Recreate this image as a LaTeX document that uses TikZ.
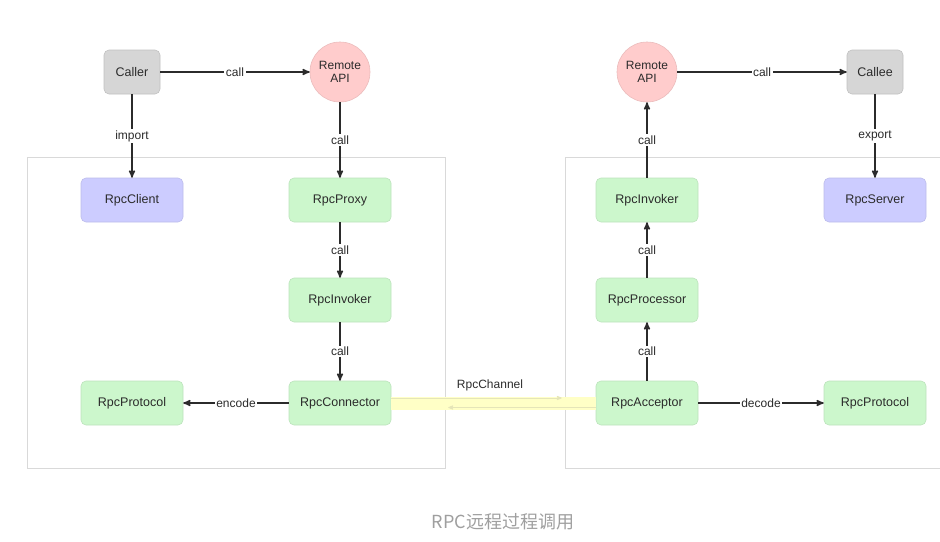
\documentclass[tikz,border=0pt]{standalone}
\usepackage{fontspec}
\setmainfont{Liberation Sans}
\newfontfamily\cjkfont{Noto Sans CJK SC}
\usetikzlibrary{arrows}
\definecolor{endgray}{HTML}{D6D6D6}
\definecolor{apipink}{HTML}{FFCCCC}
\definecolor{stepgreen}{HTML}{CCF7CC}
\definecolor{stubpurple}{HTML}{CCCCFF}
\definecolor{chanyellow}{HTML}{FFFFC6}
\definecolor{framegray}{HTML}{D9D9D9}
\definecolor{inkdark}{HTML}{2B2B2B}

\begin{document}
\begin{tikzpicture}[x=1pt,y=-1pt,->,>=stealth',line width=1.5pt,draw=inkdark,
        basebox/.style={rectangle,rounded corners=5pt,minimum height=44pt,text=inkdark,
            font=\fontsize{12.5}{14}\selectfont,line width=0.6pt},
        endbox/.style={basebox,fill=endgray,draw=endgray!90!black,minimum width=56pt},
        stepbox/.style={basebox,fill=stepgreen,draw=stepgreen!92!black,minimum width=102pt},
        stubbox/.style={basebox,fill=stubpurple,draw=stubpurple!92!black,minimum width=102pt},
        apinode/.style={circle,fill=apipink,draw=apipink!92!black,minimum size=60pt,inner sep=0pt,
            align=center,text=inkdark,font=\fontsize{12}{13}\selectfont,line width=0.6pt},
        lbl/.style={fill=white,inner sep=1.5pt,text=inkdark,font=\fontsize{12}{14}\selectfont},
        container/.style={-,draw=framegray,line width=1pt},
        faint/.style={->,draw=chanyellow!80!gray,line width=0.8pt}]

    \useasboundingbox (0,0) rectangle (940,541);

    % the two sides
    \draw[container] (27,157) rectangle (445,468);
    \draw[container] (940,157) -- (565,157) -- (565,468) -- (940,468);

    \node[endbox] (caller) at (132,72) {Caller};
    \node[apinode] (apiL) at (340,72) {Remote\\API};
    \node[apinode] (apiR) at (647,72) {Remote\\API};
    \node[endbox] (callee) at (875,72) {Callee};

    \node[stubbox] (client) at (132,200) {RpcClient};
    \node[stepbox] (proxy) at (340,200) {RpcProxy};
    \node[stepbox] (invokerL) at (340,300) {RpcInvoker};
    \node[stepbox] (connector) at (340,403) {RpcConnector};
    \node[stepbox] (protocolL) at (132,403) {RpcProtocol};

    \node[stepbox] (invokerR) at (647,200) {RpcInvoker};
    \node[stepbox] (processor) at (647,300) {RpcProcessor};
    \node[stepbox] (acceptor) at (647,403) {RpcAcceptor};
    \node[stubbox] (server) at (875,200) {RpcServer};
    \node[stepbox] (protocolR) at (875,403) {RpcProtocol};

    % client side
    \draw [->] (caller) -- node[lbl]{call} (apiL);
    \draw [->] (caller) -- node[lbl]{import} (client);
    \draw [->] (apiL) -- node[lbl]{call} (proxy);
    \draw [->] (proxy) -- node[lbl]{call} (invokerL);
    \draw [->] (invokerL) -- node[lbl]{call} (connector);
    \draw [->] (connector) -- node[lbl]{encode} (protocolL);

    % server side
    \draw [->] (apiR) -- node[lbl]{call} (callee);
    \draw [->] (callee) -- node[lbl]{export} (server);
    \draw [->] (invokerR) -- node[lbl]{call} (apiR);
    \draw [->] (processor) -- node[lbl]{call} (invokerR);
    \draw [->] (acceptor) -- node[lbl]{call} (processor);
    \draw [->] (acceptor) -- node[lbl]{decode} (protocolR);

    % channel
    \fill[-,chanyellow] ([yshift=6.5pt]connector.east) rectangle ([yshift=-6.5pt]acceptor.west);
    \draw[faint] ([yshift=5pt]connector.east) -- ([yshift=5pt,xshift=-34pt]acceptor.west);
    \draw[faint] ([yshift=-4.5pt]acceptor.west) -- ([yshift=-4.5pt,xshift=57pt]connector.east);
    \node[lbl,fill=none] (chanlabel) at (490,385) {RpcChannel};

    \node[text=gray!75,font=\cjkfont\fontsize{18}{20}\selectfont] (caption) at (503,522) {RPC远程过程调用};
\end{tikzpicture}
\end{document}
